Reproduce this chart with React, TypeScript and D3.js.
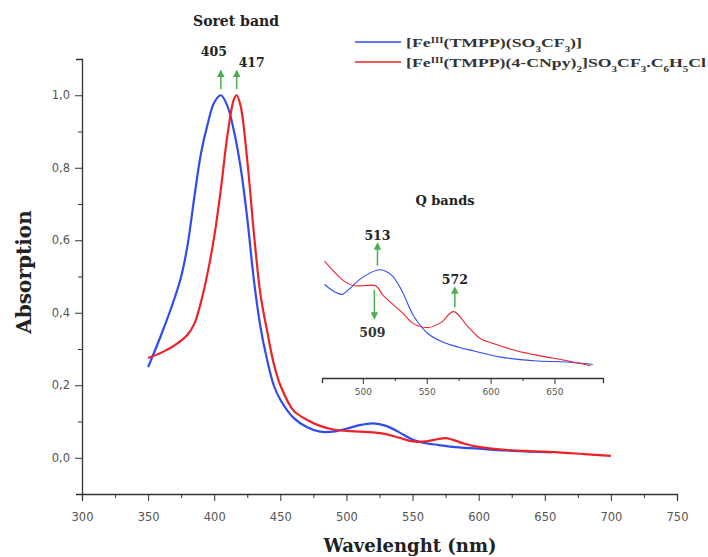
import React, { useEffect, useRef } from 'react';
import * as d3 from 'd3';

const svgWidth = 708;
const svgHeight = 557;

// main spectra (absorbance, normalised to the Soret maximum)
const blueNm = [350, 360, 370, 375, 380, 385, 390, 395, 400, 405, 410, 415, 420, 425, 430, 435, 440, 445, 450, 460, 470, 480, 490, 500, 510, 520, 530, 540, 550, 560, 570, 580, 600, 620, 640, 655];
const blueAbs = [0.25, 0.34, 0.44, 0.5, 0.59, 0.72, 0.84, 0.92, 0.98, 1.0, 0.97, 0.9, 0.8, 0.66, 0.49, 0.36, 0.27, 0.2, 0.16, 0.11, 0.085, 0.072, 0.072, 0.08, 0.09, 0.095, 0.088, 0.07, 0.05, 0.04, 0.035, 0.03, 0.025, 0.02, 0.017, 0.015];

const redNm = [350, 360, 370, 380, 385, 390, 395, 400, 405, 410, 415, 417, 420, 425, 430, 435, 440, 445, 450, 460, 470, 480, 490, 500, 510, 520, 530, 540, 550, 560, 570, 575, 580, 590, 600, 620, 640, 660, 680, 700];
const redAbs = [0.275, 0.29, 0.31, 0.34, 0.37, 0.43, 0.51, 0.61, 0.74, 0.89, 0.99, 1.0, 0.97, 0.82, 0.62, 0.45, 0.35, 0.26, 0.2, 0.13, 0.105, 0.088, 0.078, 0.074, 0.072, 0.07, 0.065, 0.055, 0.045, 0.045, 0.052, 0.054, 0.05, 0.038, 0.03, 0.022, 0.018, 0.015, 0.01, 0.005];

// inset (Q bands)
const qBlueNm = [470, 478, 484, 489, 500, 513, 522, 530, 540, 551, 563, 575, 587, 608, 634, 660, 680];
const qBlueAbs = [0.076, 0.07, 0.068, 0.072, 0.082, 0.088, 0.084, 0.072, 0.05, 0.036, 0.029, 0.025, 0.022, 0.017, 0.014, 0.013, 0.011];

const qRedNm = [470, 485, 493, 500, 510, 516, 530, 540, 551, 561, 571, 582, 592, 602, 621, 639, 660, 678];
const qRedAbs = [0.095, 0.079, 0.075, 0.075, 0.075, 0.067, 0.054, 0.044, 0.041, 0.045, 0.054, 0.042, 0.032, 0.028, 0.022, 0.018, 0.014, 0.01];

const xTicks = [300, 350, 400, 450, 500, 550, 600, 650, 700, 750];
const yTicks = [0, 0.2, 0.4, 0.6, 0.8, 1.0];
const insetTicks = [500, 550, 600, 650];

const BLUE = '#2f4cf0';
const RED = '#ee2226';
const GREEN = '#4cae4c';

const x = d3.scaleLinear().domain([300, 750]).range([82, 677]);
const y = d3.scaleLinear().domain([-0.1, 1.1]).range([494, 59]);
const xi = d3.scaleLinear().domain([468, 688]).range([322, 603]);
const yi = d3.scaleLinear().domain([0, 0.1]).range([378, 255]);

const fmt = (d: number) => d3.format('.1f')(d).replace('.', ',');

const App = () => {
  const ref = useRef<SVGSVGElement>(null);

  useEffect(() => {
    const svg = d3.select(ref.current);
    svg.selectAll('.axis').remove();

    const xAxis = svg.append('g').attr('class', 'axis')
      .attr('transform', `translate(0,${y(-0.1)})`)
      .call(d3.axisBottom(x).tickValues(d3.range(300, 751, 25)).tickSize(6).tickPadding(13)
        .tickFormat((d: any) => (xTicks.includes(+d) ? String(d) : '')));
    const yAxis = svg.append('g').attr('class', 'axis')
      .attr('transform', `translate(${x(300)},0)`)
      .call(d3.axisLeft(y).tickValues(d3.range(-0.1, 1.11, 0.1).map(v => +v.toFixed(1))).tickSize(6).tickPadding(6)
        .tickFormat((d: any) => (yTicks.some(t => Math.abs(t - d) < 1e-6) ? fmt(+d) : '')));
    const inAxis = svg.append('g').attr('class', 'axis')
      .attr('transform', `translate(0,${yi(0)})`)
      .call(d3.axisBottom(xi).tickValues(d3.range(500, 651, 25)).tickSize(5).tickPadding(6)
        .tickFormat((d: any) => (insetTicks.includes(+d) ? String(d) : '')));

    [xAxis, yAxis, inAxis].forEach(g => {
      g.select('.domain').attr('stroke', '#333').attr('stroke-width', 1.3);
      g.selectAll('.tick line').attr('stroke', '#333');
      g.selectAll('text').attr('fill', '#555').attr('font-family', 'DejaVu Sans, sans-serif');
    });
    xAxis.selectAll('text').attr('font-size', 11.5);
    yAxis.selectAll('text').attr('font-size', 11.5);
    inAxis.selectAll('text').attr('font-size', 9);
    xAxis.selectAll('.tick line').attr('y2', (d: any) => (xTicks.includes(+d) ? 7 : 4));
    yAxis.selectAll('.tick line').attr('x2', (d: any) => (yTicks.some(t => Math.abs(t - d) < 1e-6) ? -7 : -4));
    inAxis.selectAll('.tick line').attr('y2', (d: any) => (insetTicks.includes(+d) ? 6 : 3));
  }, []);

  const line = d3.line<[number, number]>()
    .x(d => x(d[0])).y(d => y(d[1])).curve(d3.curveCatmullRom.alpha(0.5));
  const iline = d3.line<[number, number]>()
    .x(d => xi(d[0])).y(d => yi(d[1])).curve(d3.curveCatmullRom.alpha(0.5));
  const pairs = (a: number[], b: number[]) => a.map((v, i) => [v, b[i]] as [number, number]);

  const serif = 'DejaVu Serif, serif';
  const times = 'Liberation Serif, serif';
  const arrow = (x0: number, y0: number, y1: number) => (
    <line x1={x0} x2={x0} y1={y0} y2={y1} stroke={GREEN} strokeWidth={1.5} markerEnd="url(#head)" />
  );
  const sub = (t: string) => <tspan baselineShift="sub" fontSize={8}>{t}</tspan>;
  const sup = (t: string) => <tspan baselineShift="super" fontSize={8}>{t}</tspan>;

  return (
    <svg ref={ref} width={svgWidth} height={svgHeight}
      style={{ position: 'absolute', left: 0, top: 0, background: '#fff' }}>
      <defs>
        <marker id="head" viewBox="0 0 10 10" refX="5" refY="5" markerWidth="5" markerHeight="5" orient="auto">
          <path d="M0,0 L10,5 L0,10 z" fill={GREEN} />
        </marker>
      </defs>

      <path d={line(pairs(blueNm, blueAbs)) || ''} fill="none" stroke={BLUE} strokeWidth={2.2} />
      <path d={line(pairs(redNm, redAbs)) || ''} fill="none" stroke={RED} strokeWidth={2.2} />

      <path d={iline(pairs(qBlueNm, qBlueAbs)) || ''} fill="none" stroke={BLUE} strokeWidth={1.1} />
      <path d={iline(pairs(qRedNm, qRedAbs)) || ''} fill="none" stroke={RED} strokeWidth={1.1} />

      {/* Soret annotations */}
      <text x={236} y={26} textAnchor="middle" fontFamily={serif} fontWeight="bold" fontSize={14} fill="#222">Soret band</text>
      <text x={x(405) - 7} y={56} textAnchor="middle" fontFamily={serif} fontWeight="bold" fontSize={12.5} fill="#222">405</text>
      <text x={x(417) + 15} y={67} textAnchor="middle" fontFamily={serif} fontWeight="bold" fontSize={12.5} fill="#222">417</text>
      {arrow(x(405), y(1.0) - 6, y(1.0) - 22)}
      {arrow(x(417), y(1.0) - 6, y(1.0) - 22)}

      {/* Q band annotations */}
      <text x={445} y={205} textAnchor="middle" fontFamily={serif} fontWeight="bold" fontSize={13} fill="#222">Q bands</text>
      <text x={xi(513) - 2} y={240} textAnchor="middle" fontFamily={serif} fontWeight="bold" fontSize={12.5} fill="#222">513</text>
      {arrow(xi(513) - 2, yi(0.088) - 4, 246)}
      <text x={xi(572)} y={284} textAnchor="middle" fontFamily={serif} fontWeight="bold" fontSize={12.5} fill="#222">572</text>
      {arrow(xi(572), yi(0.054) - 4, 290)}
      <text x={xi(509) - 2} y={337} textAnchor="middle" fontFamily={serif} fontWeight="bold" fontSize={12.5} fill="#333">509</text>
      {arrow(xi(509), yi(0.075) + 4, 316)}

      {/* legend */}
      <line x1={355} x2={401} y1={42} y2={42} stroke={BLUE} strokeWidth={2} opacity={0.75} />
      <line x1={355} x2={401} y1={62} y2={62} stroke={RED} strokeWidth={2} opacity={0.75} />
      <text x={406} y={47} fontFamily={times} fontWeight="bold" fontSize={13} fill="#333"
        textLength={176} lengthAdjust="spacingAndGlyphs">
        [Fe{sup('III')}(TMPP)(SO{sub('3')}CF{sub('3')})]
      </text>
      <text x={406} y={67} fontFamily={times} fontWeight="bold" fontSize={13} fill="#333"
        textLength={300} lengthAdjust="spacingAndGlyphs">
        [Fe{sup('III')}(TMPP)(4-CNpy){sub('2')}]SO{sub('3')}CF{sub('3')}.C{sub('6')}H{sub('5')}Cl
      </text>

      {/* axis titles */}
      <text transform="translate(31,272) rotate(-90)" textAnchor="middle" fontFamily={serif} fontWeight="bold" fontSize={20} fill="#222">Absorption</text>
      <text x={410} y={552} textAnchor="middle" fontFamily={serif} fontWeight="bold" fontSize={18} fill="#222">Wavelenght (nm)</text>
    </svg>
  );
};

export default App;
